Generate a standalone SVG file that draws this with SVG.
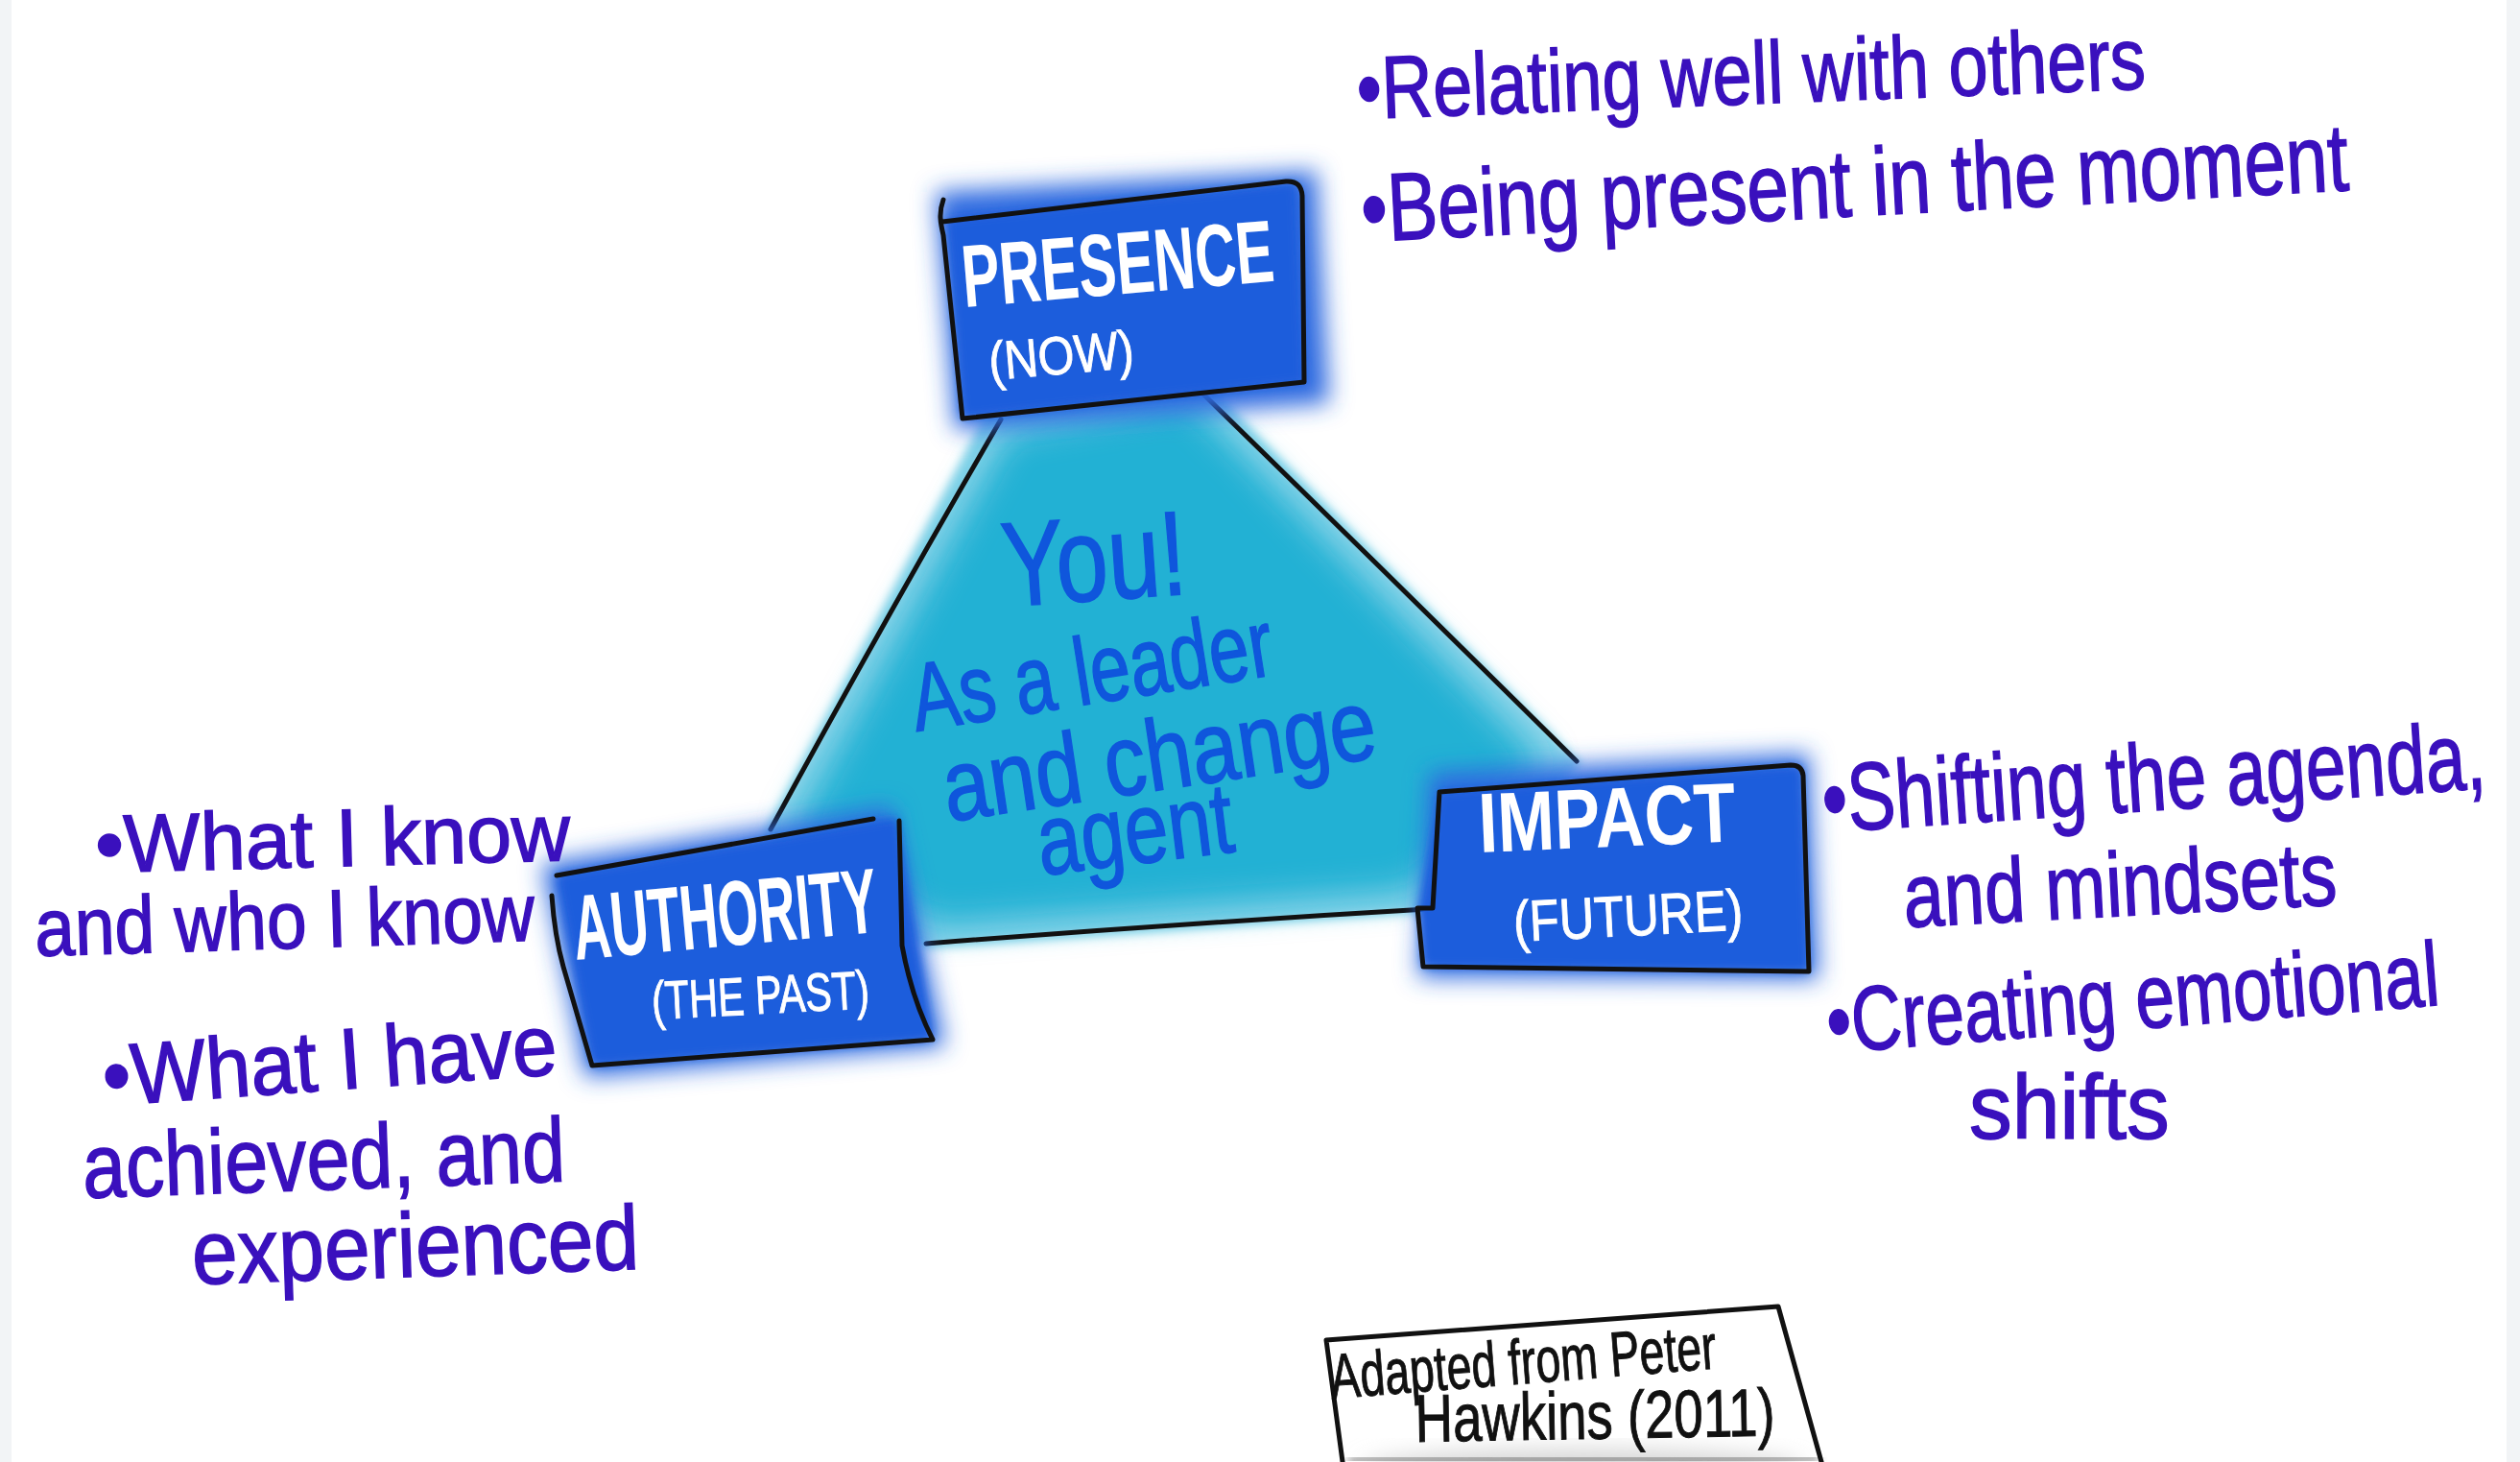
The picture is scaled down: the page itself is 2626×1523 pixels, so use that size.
<svg xmlns="http://www.w3.org/2000/svg" width="2626" height="1523" viewBox="0 0 2626 1523">
<style>
.ol{fill:none;stroke:#111;stroke-width:5;stroke-linecap:round;stroke-linejoin:round}
text{font-family:"Liberation Sans",Arial,sans-serif}
.pu{fill:#3a10bd;stroke:#3a10bd;stroke-width:1.5}
.bt{fill:#ffffff;font-weight:bold}
.bs{fill:#ffffff;stroke:#ffffff;stroke-width:1}
.ce{fill:#0f56dc;stroke:#0f56dc;stroke-width:1.5}
.bk{fill:#111;stroke:#111;stroke-width:1}
</style>
<defs>
<filter id="halo" x="-30%" y="-30%" width="160%" height="160%"><feGaussianBlur stdDeviation="12"/></filter>
<filter id="soft" x="-30%" y="-30%" width="160%" height="160%"><feGaussianBlur stdDeviation="5"/></filter>
<filter id="inner" x="-30%" y="-30%" width="160%" height="160%"><feGaussianBlur stdDeviation="18"/></filter>
</defs>
<rect x="0" y="0" width="2626" height="1523" fill="#ffffff"/>
<rect x="0" y="0" width="12" height="1523" fill="#f2f4f6"/>
<rect x="2612" y="0" width="14" height="1523" fill="#f2f4f6"/>

<g id="you">
<polygon points="1030,425 1250,392 1648,795 1490,950 965,988 795,870" fill="#8fd6ea" filter="url(#soft)"/>
<polygon points="1050,450 1240,415 1610,795 1470,930 975,965 825,865" fill="#22b1d4" filter="url(#inner)"/>
<text class="ce" font-size="125" textLength="256" lengthAdjust="spacingAndGlyphs" transform="translate(1047 632) rotate(-4) scale(0.75 1)">You!</text>
<text class="ce" font-size="100" textLength="507" lengthAdjust="spacingAndGlyphs" transform="translate(955 762) rotate(-9) scale(0.75 1)">As a leader</text>
<text class="ce" font-size="105" textLength="548" lengthAdjust="spacingAndGlyphs" transform="translate(988 856) rotate(-8.5) scale(0.83 1)">and change</text>
<text class="ce" font-size="105" textLength="263" lengthAdjust="spacingAndGlyphs" transform="translate(1085 912) rotate(-7) scale(0.78 1)">agent</text>
</g>

<g id="connectors">
<path class="ol" d="M1043,437 Q925,640 803,864"/>
<path class="ol" d="M1240,397 Q1440,592 1643,793"/>
<path class="ol" d="M965,983 Q1230,962 1487,947"/>
</g>

<g id="presence">
<polygon points="975,200 1372,178 1385,420 995,448" fill="#2d6ae0" filter="url(#halo)"/>
<polygon points="985,228 1350,190 1358,398 1003,435" fill="#1b5ddc" filter="url(#soft)"/>
<path class="ol" d="M983,208 C978,222 980,232 983,245 L1003,436 L1359,398 L1357,204 Q1356,188 1340,189 L982,231"/>
<text class="bt" font-size="92" textLength="509" lengthAdjust="spacingAndGlyphs" transform="translate(1005 320) rotate(-4.8) scale(0.64 1)">PRESENCE</text>
<text class="bs" font-size="56" textLength="174" lengthAdjust="spacingAndGlyphs" transform="translate(1032 396) rotate(-5) scale(0.87 1)">(NOW)</text>
</g>

<g id="authority">
<polygon points="565,900 930,840 985,1090 610,1122" fill="#2d6ae0" filter="url(#halo)"/>
<polygon points="580,912 935,852 972,1083 617,1110" fill="#1b5ddc" filter="url(#soft)"/>
<path class="ol" d="M580,912 L910,853"/>
<path class="ol" d="M575,933 Q578,975 587,1007 L617,1110 L972,1083 Q950,1040 940,985 L937,855"/>
<text class="bt" font-size="96" textLength="558" lengthAdjust="spacingAndGlyphs" transform="translate(600 1000) rotate(-5.3) scale(0.57 1)">AUTHORITY</text>
<text class="bs" font-size="56" textLength="311" lengthAdjust="spacingAndGlyphs" transform="translate(680 1062) rotate(-3) scale(0.73 1)">(THE PAST)</text>
</g>

<g id="impact">
<polygon points="1490,805 1885,785 1895,1020 1478,1018" fill="#2d6ae0" filter="url(#halo)"/>
<polygon points="1500,825 1877,797 1885,1012 1483,1007 1478,948" fill="#1b5ddc" filter="url(#soft)"/>
<path class="ol" d="M1500,825 L1866,797 Q1878,797 1879,808 L1885,1012 L1483,1007 L1477,946 L1493,946 L1500,825"/>
<text class="bt" font-size="88" textLength="335" lengthAdjust="spacingAndGlyphs" transform="translate(1542 888) rotate(-2.5) scale(0.8 1)">IMPACT</text>
<text class="bs" font-size="60" textLength="285" lengthAdjust="spacingAndGlyphs" transform="translate(1578 981) rotate(-3) scale(0.84 1)">(FUTURE)</text>
</g>

<g id="presence-notes">
<text class="pu" font-size="92" textLength="1028" lengthAdjust="spacingAndGlyphs" transform="translate(1415 124) rotate(-2.2) scale(0.8 1)">•Relating well with others</text>
<text class="pu" font-size="100" textLength="1314" lengthAdjust="spacingAndGlyphs" transform="translate(1420 252) rotate(-3) scale(0.784 1)">•Being present in the moment</text>
</g>

<g id="impact-notes">
<text class="pu" font-size="100" textLength="923" lengthAdjust="spacingAndGlyphs" transform="translate(1901 867) rotate(-3.8) scale(0.75 1)">•Shifting the agenda,</text>
<text class="pu" font-size="95" textLength="565" lengthAdjust="spacingAndGlyphs" transform="translate(1985 966) rotate(-3) scale(0.8 1)">and mindsets</text>
<text class="pu" font-size="95" textLength="831" lengthAdjust="spacingAndGlyphs" transform="translate(1906 1097) rotate(-4.5) scale(0.77 1)">•Creating emotional</text>
<text class="pu" font-size="95" textLength="222" lengthAdjust="spacingAndGlyphs" transform="translate(2052 1186) scale(0.94 1)">shifts</text>
</g>

<g id="authority-notes">
<text class="pu" font-size="85" textLength="495" lengthAdjust="spacingAndGlyphs" transform="translate(100 909) rotate(-1.5)">•What I know</text>
<text class="pu" font-size="85" textLength="592" lengthAdjust="spacingAndGlyphs" transform="translate(37 996) rotate(-1.8) scale(0.88 1)">and who I know</text>
<text class="pu" font-size="90" textLength="510" lengthAdjust="spacingAndGlyphs" transform="translate(109 1152) rotate(-4) scale(0.93 1)">•What I have</text>
<text class="pu" font-size="95" textLength="592" lengthAdjust="spacingAndGlyphs" transform="translate(87 1248) rotate(-2) scale(0.85 1)">achieved, and</text>
<text class="pu" font-size="95" textLength="518" lengthAdjust="spacingAndGlyphs" transform="translate(201 1338) rotate(-2) scale(0.9 1)">experienced</text>
</g>

<g id="source">
<ellipse cx="1650" cy="1530" rx="230" ry="20" fill="#d4d4d4" filter="url(#halo)"/>
<path d="M1405,1521 L1895,1519" fill="none" stroke="#333" stroke-width="4" filter="url(#soft)"/>
<path class="ol" d="M1400,1530 L1382,1396 L1853,1361 L1900,1530"/>
<text class="bk" font-size="66" textLength="572" lengthAdjust="spacingAndGlyphs" transform="translate(1388 1457) rotate(-4.5) scale(0.705 1)">Adapted from Peter</text>
<text class="bk" font-size="70" textLength="487" lengthAdjust="spacingAndGlyphs" transform="translate(1475 1502) rotate(-1) scale(0.77 1)">Hawkins (2011)</text>
</g>
</svg>
